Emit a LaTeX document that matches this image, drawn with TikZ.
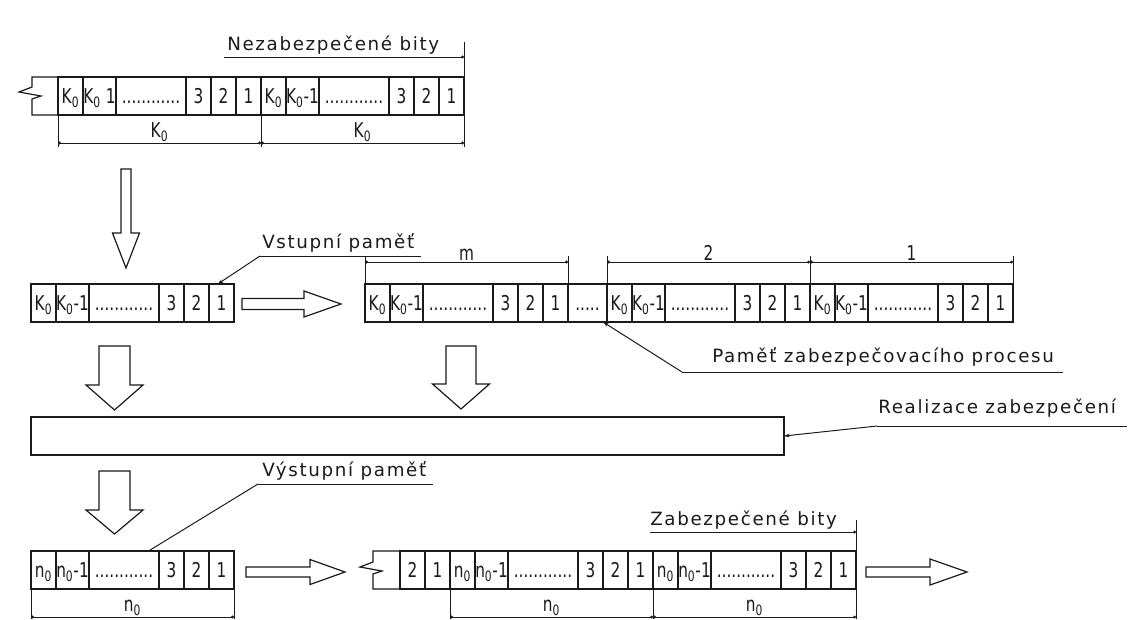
\documentclass[tikz,border=0pt]{standalone}
\usepackage{fontspec}
\setmainfont{DejaVu Sans}
\newfontfamily\labelfamily[LetterSpace=9]{DejaVu Sans}
\newfontfamily\cellfamily[FakeStretch=0.75]{DejaVu Sans}
\usetikzlibrary{
  arrows.meta,
  calc
}
\definecolor{Ink}{HTML}{1A1A1A}
\newcommand{\pxu}{0.025cm}
\newcommand{\diagramlabelfont}{\labelfamily\fontsize{13}{15}\selectfont}
\newcommand{\diagramcellfont}{\cellfamily\fontsize{14.5}{16}\selectfont}
\newcommand{\Kz}{K\textsubscript{0}}
\newcommand{\Nz}{n\textsubscript{0}}
\newcommand{\celldots}{............}
% One block of bits: #1 name, #2 left x, #3 top y, #4/#5 texts of the first two cells
\newcommand{\bitblock}[5]{%
  \foreach \off/\w/\txt [count=\i] in
    {0/25/{#4}, 25/33/{#5}, 58/70/{\celldots}, 128/25/3, 153/25/2, 178/25/1}{
    \node[bit cell, minimum width=\w*\pxu] (#1-\i) at (#2+\off,#3) {\txt};
  }%
}
\tikzset{
  every node/.style={font=\diagramcellfont, text=Ink},
  bit cell/.style={
    draw=Ink,
    line width=0.85pt,
    inner sep=0pt,
    outer sep=0pt,
    minimum height=38*\pxu,
    text height=10.5pt,
    text depth=0pt,
    anchor=north west
  },
  outline/.style={draw=Ink, line width=0.85pt, line join=miter},
  block arrow/.style={draw=Ink, line width=0.85pt, fill=white},
  ext line/.style={draw=Ink, line width=0.7pt},
  dim line/.style={
    {Circle[length=2pt]}-{Circle[length=2pt]},
    draw=Ink,
    line width=0.7pt
  },
  dim label/.style={above, inner sep=0.6pt},
  leader/.style={draw=Ink, line width=0.7pt},
  leader tip/.style={leader, -{Stealth[length=4pt,width=2.6pt]}},
  dot tip/.style={leader, -{Circle[length=2pt]}},
  note label/.style={font=\diagramlabelfont, anchor=base west, inner sep=0pt}
}

\begin{document}
\begin{tikzpicture}[x=\pxu, y=-\pxu]

\path[fill=white, use as bounding box] (0,0) rectangle (1129,619);

% ---------------------------------------------------------------------------
% Unprotected bit stream
% ---------------------------------------------------------------------------
\bitblock{topA}{58}{77}{\Kz}{\Kz{} 1}
\bitblock{topB}{261}{77}{\Kz}{\Kz-1}
\draw[outline] (topA-1.north west) -- (32,77) -- (32,87) -- (19,92) -- (41,96)
  -- (32,99) -- (32,115) -- (topA-1.south west);

\node[note label] (rawLabel) at (227,50) {Nezabezpečené bity};
\coordinate (rawStart) at (224,57);
\draw[ext line] (topB-6.north east) -- ++(0,-35);
\draw[dot tip] (rawStart) -- (rawStart -| topB-6.north east);

\draw[ext line] (topA-1.south west) -- ++(0,32);
\draw[ext line] (topB-1.south west) -- ++(0,32);
\draw[ext line] (topB-6.south east) -- ++(0,32);
\draw[dim line] ($(topA-1.south west)+(0,28)$) -- node[dim label] {\Kz}
  ($(topB-1.south west)+(0,28)$);
\draw[dim line] ($(topB-1.south west)+(0,28)$) -- node[dim label] {\Kz}
  ($(topB-6.south east)+(0,28)$);

% ---------------------------------------------------------------------------
% Input memory and memory of the protecting process
% ---------------------------------------------------------------------------
\bitblock{inLeft}{31}{284}{\Kz}{\Kz-1}
\bitblock{inM}{365}{284}{\Kz}{\Kz-1}
\node[bit cell, minimum width=39*\pxu] (inGap) at (568,284) {.....};
\bitblock{inTwo}{607}{284}{\Kz}{\Kz-1}
\bitblock{inOne}{810}{284}{\Kz}{\Kz-1}

\node[note label] (inLabel) at (262,248) {Vstupní paměť};
\coordinate (inBend) at (260,256);
\coordinate (inEnd) at (421,256);
\draw[leader] (inBend) -- (inEnd);
\draw[leader tip] (inBend) -- ($(inLeft-6.north west)!0.35!(inLeft-6.north east)$);

\foreach \name/\side in {inM-1/north west, inM-6/north east, inTwo-1/north west,
  inOne-1/north west, inOne-6/north east}{
  \draw[ext line] (\name.\side) -- ++(0,-28);
}
\draw[dim line] ($(inM-1.north west)+(0,-22)$) -- node[dim label] {m}
  ($(inM-6.north east)+(0,-22)$);
\draw[dim line] ($(inTwo-1.north west)+(0,-22)$) -- node[dim label] {2}
  ($(inOne-1.north west)+(0,-22)$);
\draw[dim line] ($(inOne-1.north west)+(0,-22)$) -- node[dim label] {1}
  ($(inOne-6.north east)+(0,-22)$);

\node[note label] (procLabel) at (712,362) {Paměť zabezpečovacího procesu};
\coordinate (procBend) at (682,372);
\coordinate (procEnd) at (1063,372);
\draw[leader] (procBend) -- (procEnd);
\draw[leader tip] (procBend) -- ($(inGap.south east)+(-4,0)$);

% ---------------------------------------------------------------------------
% Realisation of the protection
% ---------------------------------------------------------------------------
\node[bit cell, minimum width=753*\pxu] (realize) at (31,417) {};

\node[note label] (realLabel) at (878,413) {Realizace zabezpečení};
\coordinate (realBend) at (877,426);
\coordinate (realEnd) at (1127,426);
\draw[leader] (realBend) -- (realEnd);
\draw[leader tip] (realBend) -- (realize.east);

% ---------------------------------------------------------------------------
% Output memory and protected bit stream
% ---------------------------------------------------------------------------
\bitblock{outLeft}{31}{551}{\Nz}{\Nz-1}
\node[bit cell] (outTail-2) [minimum width=25*\pxu] at (400,551) {2};
\node[bit cell] (outTail-1) [minimum width=25*\pxu] at (425,551) {1};
\bitblock{outA}{450}{551}{\Nz}{\Nz-1}
\bitblock{outB}{653}{551}{\Nz}{\Nz-1}
\draw[outline] (outTail-2.north west) -- (373,551) -- (373,562) -- (360,567)
  -- (382,571) -- (373,574) -- (373,589) -- (outTail-2.south west);

\node[note label] (outLabel) at (262,476) {Výstupní paměť};
\coordinate (outBend) at (258,484);
\coordinate (outEnd) at (433,484);
\draw[leader] (outBend) -- (outEnd);
\draw[leader] (outBend) -- ($(outLeft-3.north west)!0.85!(outLeft-3.north east)$);

\node[note label] (safeLabel) at (650,525) {Zabezpečené bity};
\coordinate (safeStart) at (650,532);
\draw[ext line] (outB-6.north east) -- ++(0,-31);
\draw[dot tip] (safeStart) -- (safeStart -| outB-6.north east);

\foreach \name/\side in {outLeft-1/south west, outLeft-6/south east, outA-1/south west,
  outB-1/south west, outB-6/south east}{
  \draw[ext line] (\name.\side) -- ++(0,30);
}
\draw[dim line] ($(outLeft-1.south west)+(0,28)$) -- node[dim label] {\Nz}
  ($(outLeft-6.south east)+(0,28)$);
\draw[dim line] ($(outA-1.south west)+(0,28)$) -- node[dim label] {\Nz}
  ($(outB-1.south west)+(0,28)$);
\draw[dim line] ($(outB-1.south west)+(0,28)$) -- node[dim label] {\Nz}
  ($(outB-6.south east)+(0,28)$);

% ---------------------------------------------------------------------------
% Hollow flow arrows
% ---------------------------------------------------------------------------
\foreach \cx/\top/\base/\tip/\sw/\hw in {126/169/233/268/5/13.5,
  114.5/346/385/410/15.5/28.5, 461/346/384/409/15/28.5, 114.5/471/510/534/15.5/28.5}{
  \draw[block arrow] (\cx-\sw,\top) -- (\cx+\sw,\top) -- (\cx+\sw,\base)
    -- (\cx+\hw,\base) -- (\cx,\tip) -- (\cx-\hw,\base) -- (\cx-\sw,\base) -- cycle;
}
\foreach \cy/\left/\base/\tip/\sw/\hw in {304/242/304/341/5.5/13,
  572/246/310/345/5/12.5, 572/866/930/967/5/13}{
  \draw[block arrow] (\left,\cy-\sw) -- (\base,\cy-\sw) -- (\base,\cy-\hw)
    -- (\tip,\cy) -- (\base,\cy+\hw) -- (\base,\cy+\sw) -- (\left,\cy+\sw) -- cycle;
}

\end{tikzpicture}
\end{document}
